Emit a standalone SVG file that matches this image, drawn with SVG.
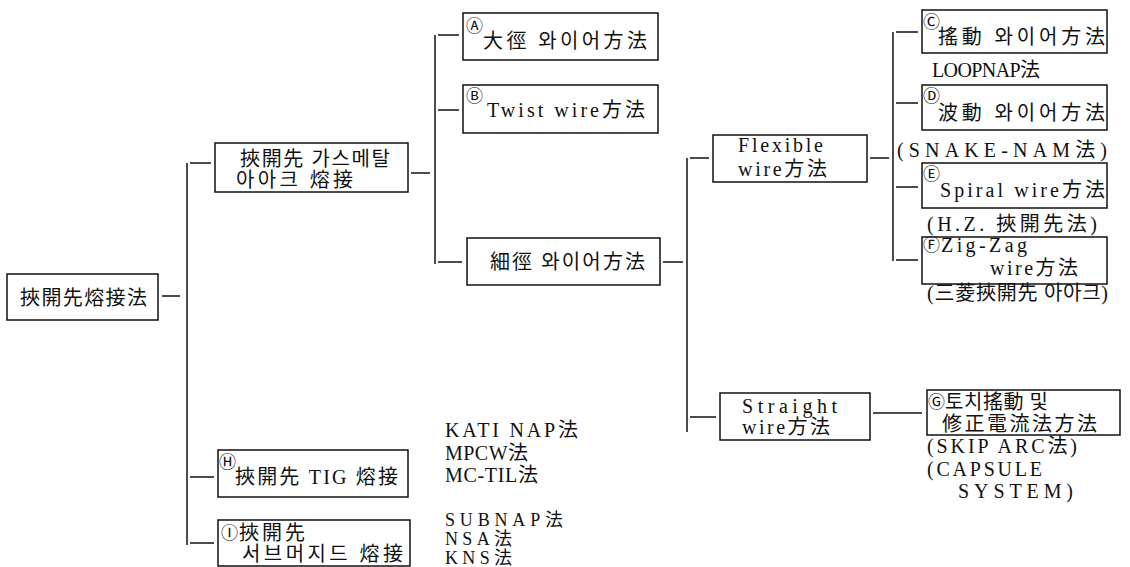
<svg xmlns="http://www.w3.org/2000/svg" width="1130" height="567" viewBox="0 0 1130 567">
<style>
text{font-family:"Liberation Serif","Noto Sans CJK KR",serif;font-size:20px;fill:#111}
.c{font-size:17px}
.s{font-size:18px}
rect{fill:none;stroke:#111;stroke-width:1.5}
#connectors line{stroke:#111;stroke-width:1.5}
</style>
<rect x="0" y="0" width="1130" height="567" style="fill:#fff;stroke:none"/>
<g id="connectors">
<line x1="162" y1="296" x2="180" y2="296"/>
<line x1="187" y1="163" x2="187" y2="545"/>
<line x1="190" y1="163" x2="211" y2="163"/>
<line x1="190" y1="477" x2="214" y2="477"/>
<line x1="190" y1="543" x2="214" y2="543"/>
<line x1="411" y1="173" x2="430" y2="173"/>
<line x1="435" y1="35" x2="435" y2="264"/>
<line x1="438" y1="35" x2="459" y2="35"/>
<line x1="438" y1="110" x2="459" y2="110"/>
<line x1="438" y1="262" x2="462" y2="262"/>
<line x1="663" y1="262" x2="683" y2="262"/>
<line x1="687" y1="158" x2="687" y2="432"/>
<line x1="690" y1="158" x2="709" y2="158"/>
<line x1="690" y1="417" x2="716" y2="417"/>
<line x1="870" y1="158" x2="889" y2="158"/>
<line x1="893" y1="32" x2="893" y2="261"/>
<line x1="896" y1="32" x2="918" y2="32"/>
<line x1="896" y1="103" x2="918" y2="103"/>
<line x1="896" y1="187" x2="918" y2="187"/>
<line x1="896" y1="260" x2="918" y2="260"/>
<line x1="873" y1="413" x2="922" y2="413"/>
</g>
<g id="root"><rect x="7" y="274" width="151" height="46"/><text x="20" y="305" textLength="127" lengthAdjust="spacing">挾開先熔接法</text></g>
<g id="gma"><rect x="215" y="143" width="193" height="49"/><text x="240" y="166" textLength="150" lengthAdjust="spacing">挾開先 가스메탈</text><text x="236" y="187" textLength="117" lengthAdjust="spacing">아아크 熔接</text></g>
<g id="A"><rect x="463" y="13" width="195" height="47"/><text class="c" x="466" y="32">Ⓐ</text><text x="483" y="48" textLength="164" lengthAdjust="spacing">大徑 와이어方法</text></g>
<g id="B"><rect x="463" y="85" width="195" height="48"/><text class="c" x="466" y="102">Ⓑ</text><text x="487" y="117" textLength="158" lengthAdjust="spacing">Twist wire方法</text></g>
<g id="thin"><rect x="467" y="238" width="193" height="47"/><text x="490" y="269" textLength="155" lengthAdjust="spacing">細徑 와이어方法</text></g>
<g id="flex"><rect x="713" y="135" width="154" height="47"/><text x="738" y="152" textLength="85" lengthAdjust="spacing">Flexible</text><text x="738" y="176" textLength="89" lengthAdjust="spacing">wire方法</text></g>
<g id="straight"><rect x="720" y="393" width="150" height="47"/><text x="742" y="413" textLength="95" lengthAdjust="spacing">Straight</text><text x="742" y="434" textLength="88" lengthAdjust="spacing">wire方法</text></g>
<g id="C"><rect x="922" y="10" width="185" height="43"/><text class="c" x="923" y="28">Ⓒ</text><text x="938" y="44" textLength="167" lengthAdjust="spacing">搖動 와이어方法</text><text x="932" y="77" textLength="108" lengthAdjust="spacing">LOOPNAP法</text></g>
<g id="D"><rect x="922" y="85" width="185" height="45"/><text class="c" x="923" y="102">Ⓓ</text><text x="938" y="120" textLength="167" lengthAdjust="spacing">波動 와이어方法</text><text x="897" y="157" textLength="210" lengthAdjust="spacing">(SNAKE-NAM法)</text></g>
<g id="E"><rect x="922" y="163" width="185" height="45"/><text class="c" x="923" y="180">Ⓔ</text><text x="940" y="197" textLength="165" lengthAdjust="spacing">Spiral wire方法</text><text x="927" y="231" textLength="170" lengthAdjust="spacing">(H.Z.  挾開先法)</text></g>
<g id="F"><rect x="922" y="237" width="185" height="47"/><text class="c" x="923" y="251">Ⓕ</text><text x="941" y="252" textLength="86" lengthAdjust="spacing">Zig-Zag</text><text x="990" y="275" textLength="88" lengthAdjust="spacing">wire方法</text><text x="927" y="300" textLength="181" lengthAdjust="spacing">(三菱挾開先 아아크)</text></g>
<g id="G"><rect x="927" y="390" width="193" height="45"/><text class="c" x="928" y="408">Ⓖ</text><text x="945" y="409" textLength="103" lengthAdjust="spacing">토치搖動 및</text><text x="942" y="431" textLength="155" lengthAdjust="spacing">修正電流法方法</text><text x="927" y="453" textLength="150" lengthAdjust="spacing">(SKIP  ARC法)</text><text x="927" y="476" textLength="115" lengthAdjust="spacing">(CAPSULE</text><text x="958" y="498" textLength="115" lengthAdjust="spacing">SYSTEM)</text></g>
<g id="H"><rect x="218" y="450" width="190" height="47"/><text class="c" x="219" y="468">Ⓗ</text><text x="235" y="484" textLength="163" lengthAdjust="spacing">挾開先 TIG 熔接</text></g>
<g id="I"><rect x="218" y="520" width="192" height="46"/><text class="c" x="221" y="539">Ⓘ</text><text x="239" y="540" textLength="66" lengthAdjust="spacing">挾開先</text><text x="242" y="561" textLength="161" lengthAdjust="spacing">서브머지드 熔接</text></g>
<g id="tig-methods"><text x="445" y="437" textLength="133" lengthAdjust="spacing">KATI NAP法</text><text x="445" y="460" textLength="83" lengthAdjust="spacing">MPCW法</text><text x="445" y="482" textLength="93" lengthAdjust="spacing">MC-TIL法</text></g>
<g id="saw-methods"><text class="s" x="445" y="526" textLength="118" lengthAdjust="spacing">SUBNAP法</text><text class="s" x="445" y="545" textLength="67" lengthAdjust="spacing">NSA法</text><text class="s" x="445" y="564" textLength="67" lengthAdjust="spacing">KNS法</text></g>
</svg>
